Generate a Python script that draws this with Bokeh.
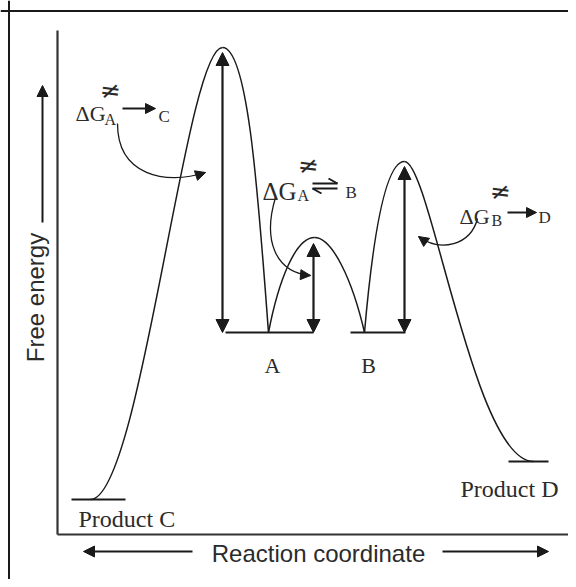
from math import pi
from bokeh.plotting import figure
from bokeh.models import Range1d, Span, Arrow, NormalHead, ColumnDataSource
from bokeh.core.properties import value
from bokeh.embed import file_html
from bokeh.resources import INLINE

# ---------------- data (x: reaction coordinate, e: free energy) ----------------
# energy profile as cubic Bezier pieces: start, control 1, control 2, end
curve_x0 = [90, 222, 268, 314, 364, 404]
curve_e0 = [35, 487, 202, 297, 202, 373]
curve_cx0 = [140, 248, 278, 332, 372, 430]
curve_ce0 = [35, 487, 254, 297, 294, 373]
curve_cx1 = [185, 258, 295, 352, 384, 473]
curve_ce1 = [487, 334, 297, 254, 373, 73]
curve_x1 = [222, 268, 314, 364, 404, 533]
curve_e1 = [487, 202, 297, 202, 373, 73]

# energy levels of species
level_names = ["Product C", "A", "B", "Product D"]
level_x_start = [71, 225, 350, 508]
level_x_end = [125, 313, 405, 548]
level_energy = [35, 202, 202, 73]

# activation-energy double arrows
barrier_x = [222, 313, 404]
barrier_from = [202, 202, 202]
barrier_to = [482, 291, 368]

# curved pointer arrows from the labels (Bezier)
ptr_x0 = [117, 275, 477]
ptr_e0 = [411, 337, 316]
ptr_cx0 = [117, 262, 470]
ptr_ce0 = [359, 294, 289]
ptr_cx1 = [165, 275, 440]
ptr_ce1 = [349, 262, 282]
ptr_x1 = [205, 310, 418]
ptr_e1 = [362, 259, 298]

# labels of the barriers
dg_x = [75, 262, 459]
dg_e = [421, 343, 318]
dg_size = ["22px", "25px", "22px"]
dg_sub = ["A", "A", "B"]
dg_sub_x = [104, 297, 491]
dg_sub_e = [415, 339, 314]
dg_neq_x = [110, 308, 500]
dg_neq_e = [444, 369, 343]
dg_target = ["C", "B", "D"]
dg_target_x = [158, 345, 538]
dg_target_e = [418, 342, 317]
dg_arrow_x0 = [122, 507]
dg_arrow_x1 = [155, 536]
dg_arrow_e = [426, 322]
# equilibrium harpoons (A <=> B)
harp_x0 = [312, 337, 312, 312]
harp_e0 = [351, 351, 346, 346]
harp_x1 = [337, 328, 337, 321]
harp_e1 = [351, 356, 346, 341]

# species labels
species_label_x = [78, 272, 368, 460]
species_label_e = [16, 169, 169, 46]
species_label_align = ["left", "center", "center", "left"]
species_label_size = ["24px", "22px", "22px", "24px"]

# axes
axis_origin_x = 57
axis_origin_e = 0
axis_x_end = 569
axis_e_end = 504
xlabel = "Reaction coordinate"
ylabel = "Free energy"
xlabel_pos = (318, -19)
ylabel_pos = (35, 237)
xarrow_x0 = [192, 442]
xarrow_x1 = [83, 548]
xarrow_e = -17
yarrow_x = 42
yarrow_e0 = 312
yarrow_e1 = 449
frame_left = 8.5
frame_top = 523.5

INK = "#1a1a1a"
TXT = "#2b2b2b"
SERIF = value("Liberation Serif")
SANS = value("Liberation Sans")

p = figure(width=568, height=579, x_range=Range1d(0, 568), y_range=Range1d(-45, 534),
           output_backend="svg", toolbar_location=None, min_border=0,
           x_axis_type=None, y_axis_type=None)
p.outline_line_color = None
p.background_fill_color = "white"
p.border_fill_color = "white"

# frame (left and top border)
p.add_layout(Span(location=frame_left, dimension="height", line_color=INK, line_width=2))
p.add_layout(Span(location=frame_top, dimension="width", line_color=INK, line_width=2))

# axes
p.segment(x0=[axis_origin_x, axis_origin_x], y0=[axis_origin_e, axis_origin_e],
          x1=[axis_x_end, axis_origin_x], y1=[axis_origin_e, axis_e_end],
          line_color="#333333", line_width=2.2)

# energy curve
p.bezier(x0=curve_x0, y0=curve_e0, x1=curve_x1, y1=curve_e1,
         cx0=curve_cx0, cy0=curve_ce0, cx1=curve_cx1, cy1=curve_ce1,
         line_color=INK, line_width=1.5)

# levels
p.segment(x0=level_x_start, y0=level_energy, x1=level_x_end, y1=level_energy,
          line_color=INK, line_width=2.2)

# barrier double arrows
bsrc = ColumnDataSource(dict(x=barrier_x, y0=barrier_from, y1=barrier_to))
p.add_layout(Arrow(source=bsrc, x_start="x", y_start="y0", x_end="x", y_end="y1",
                   line_color=INK, line_width=2.2,
                   start=NormalHead(size=13, fill_color=INK, line_color=INK, line_width=1),
                   end=NormalHead(size=13, fill_color=INK, line_color=INK, line_width=1)))

# curved pointers
p.bezier(x0=ptr_x0, y0=ptr_e0, x1=ptr_x1, y1=ptr_e1,
         cx0=ptr_cx0, cy0=ptr_ce0, cx1=ptr_cx1, cy1=ptr_ce1,
         line_color=INK, line_width=1.3)
head_start_x = [x1 - 0.2 * (x1 - cx) for x1, cx in zip(ptr_x1, ptr_cx1)]
head_start_e = [e1 - 0.2 * (e1 - ce) for e1, ce in zip(ptr_e1, ptr_ce1)]
psrc = ColumnDataSource(dict(xs=head_start_x, ys=head_start_e, xe=ptr_x1, ye=ptr_e1))
p.add_layout(Arrow(source=psrc, x_start="xs", y_start="ys", x_end="xe", y_end="ye",
                   line_color=INK, line_width=1.3,
                   end=NormalHead(size=10, fill_color=INK, line_color=INK, line_width=1)))

# barrier labels
dsrc = ColumnDataSource(dict(x=dg_x, y=dg_e, t=["ΔG"] * 3, s=dg_size))
p.text(x="x", y="y", text="t", text_font_size="s", source=dsrc, text_font=SERIF,
       text_color=TXT, text_align="left", text_baseline="alphabetic")
p.text(x=dg_sub_x, y=dg_sub_e, text=dg_sub, text_font=SERIF, text_font_size="16px",
       text_color=TXT, text_align="left", text_baseline="alphabetic")
p.text(x=dg_neq_x, y=dg_neq_e, text=["≠"] * 3, text_font=value("DejaVu Sans"),
       text_font_size="25px", text_color=TXT, text_align="center", text_baseline="middle",
       angle=-0.12)
p.text(x=dg_target_x, y=dg_target_e, text=dg_target, text_font=SERIF, text_font_size="17px",
       text_color=TXT, text_align="left", text_baseline="alphabetic")
asrc = ColumnDataSource(dict(x0=dg_arrow_x0, x1=dg_arrow_x1, e=dg_arrow_e))
p.add_layout(Arrow(source=asrc, x_start="x0", y_start="e", x_end="x1", y_end="e",
                   line_color=INK, line_width=2,
                   end=NormalHead(size=10, fill_color=INK, line_color=INK, line_width=1)))
p.segment(x0=harp_x0, y0=harp_e0, x1=harp_x1, y1=harp_e1, line_color=INK, line_width=2)

# species labels
ssrc = ColumnDataSource(dict(x=species_label_x, y=species_label_e, t=level_names,
                             a=species_label_align, s=species_label_size))
p.text(x="x", y="y", text="t", text_align="a", text_font_size="s", source=ssrc,
       text_font=SERIF, text_color=TXT, text_baseline="alphabetic")

# axis titles with arrows
p.text(x=[xlabel_pos[0]], y=[xlabel_pos[1]], text=[xlabel], text_font=SANS,
       text_font_size="24px", text_color=TXT, text_align="center", text_baseline="middle")
p.text(x=[ylabel_pos[0]], y=[ylabel_pos[1]], text=[ylabel], text_font=SANS,
       text_font_size="24px", text_color=TXT, text_align="center", text_baseline="middle",
       angle=pi / 2)
xsrc = ColumnDataSource(dict(x0=xarrow_x0, x1=xarrow_x1, e=[xarrow_e] * 2))
p.add_layout(Arrow(source=xsrc, x_start="x0", y_start="e", x_end="x1", y_end="e",
                   line_color=INK, line_width=2,
                   end=NormalHead(size=11, fill_color=INK, line_color=INK, line_width=1)))
ysrc = ColumnDataSource(dict(x=[yarrow_x], e0=[yarrow_e0], e1=[yarrow_e1]))
p.add_layout(Arrow(source=ysrc, x_start="x", y_start="e0", x_end="x", y_end="e1",
                   line_color=INK, line_width=2,
                   end=NormalHead(size=11, fill_color=INK, line_color=INK, line_width=1)))

open("out.html", "w").write(file_html(p, INLINE))
